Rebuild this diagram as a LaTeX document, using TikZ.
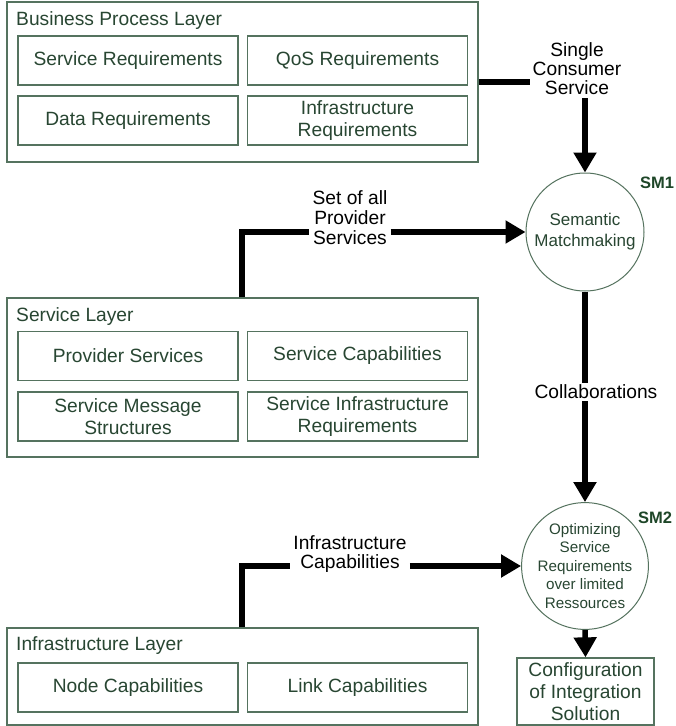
\documentclass[tikz,border=0pt]{standalone}
\usepackage{fontspec}
\setmainfont{Liberation Sans}
\usetikzlibrary{arrows.meta}
\definecolor{boxline}{RGB}{85,115,95}
\definecolor{boxtext}{RGB}{40,70,50}
\definecolor{smgreen}{RGB}{30,70,40}
\begin{document}
\begin{tikzpicture}[x=1pt,y=-1pt,
 layer/.style={draw=boxline,line width=1.3pt,minimum width=471pt,inner sep=0pt},
 item/.style={draw=boxline,line width=1.3pt,minimum width=220pt,minimum height=49pt,text=boxtext,align=center,font=\fontsize{19.2}{21.5}\selectfont,inner sep=0pt},
 ltitle/.style={anchor=west,text=boxtext,font=\fontsize{19.2}{21.5}\selectfont,inner sep=0pt},
 flow/.style={line width=5.5pt},
 flowarrow/.style={line width=5.5pt,-{Triangle[width=22pt,length=20pt]}},
 lbl/.style={align=center,fill=white,inner sep=3pt},
 sm/.style={circle,draw=boxline,line width=1pt,text=boxtext,align=center,inner sep=0pt},
 smlabel/.style={text=smgreen,font=\fontsize{16.5}{16.5}\bfseries\selectfont}
]
\useasboundingbox (0,0) rectangle (676,726);
\fill[white] (0,0) rectangle (676,726);

% Business process layer
\node[layer,minimum height=160pt] (bpl) at (242.5,82) {};
\node[ltitle] (bplt) at (16,21) {Business Process Layer};
\node[item] (sreq) at (128,60.5) {Service Requirements};
\node[item] (qreq) at (357.5,60.5) {QoS Requirements};
\node[item] (dreq) at (128,120.5) {Data Requirements};
\node[item] (ireq) at (357.5,120.5) {Infrastructure\\Requirements};

% Service layer
\node[layer,minimum height=159pt] (sl) at (242.5,377.5) {};
\node[ltitle] (slt) at (16,317) {Service Layer};
\node[item] (psrv) at (128,356) {Provider Services};
\node[item] (scap) at (357.5,356) {Service Capabilities};
\node[item] (smsg) at (128,416.5) {Service Message\\Structures};
\node[item] (sinf) at (357.5,416.5) {Service Infrastructure\\Requirements};

% Infrastructure layer
\node[layer,minimum height=97pt] (il) at (242.5,676.5) {};
\node[ltitle] (ilt) at (16,646) {Infrastructure Layer};
\node[item] (ncap) at (128,687.5) {Node Capabilities};
\node[item] (lcap) at (357.5,687.5) {Link Capabilities};

% Semantic matchmakers
\node[sm,minimum size=118pt,font=\fontsize{17}{21}\selectfont] (sm1) at (585,232) {Semantic\\Matchmaking};
\node[smlabel] (sm1l) at (657,183) {SM1};
\node[sm,minimum size=120pt,font=\fontsize{15.2}{18.5}\selectfont] (sm2) at (585,566) {Optimizing\\Service\\Requirements\\over limited\\Ressources};
\node[smlabel] (sm2l) at (655,518) {SM2};

% Configuration
\node[draw=boxline,line width=1.3pt,minimum width=137pt,minimum height=67pt,inner sep=0pt,text=boxtext,align=center,font=\fontsize{19.2}{22}\selectfont] (cfg) at (585.5,691.5) {Configuration\\of Integration\\Solution};

% Single consumer service
\node[lbl,fill=none,font=\fontsize{19.2}{19}\selectfont] (scs) at (577,69) {Single\\Consumer\\Service};
\draw[flow] (bpl.east) -- (bpl.east -| scs.west);
\draw[flowarrow] (sm1.north |- scs.south) -- (sm1.north);

% Set of all provider services
\node[lbl,fill=none,font=\fontsize{19.2}{20}\selectfont] (sap) at (350,218) {Set of all\\Provider\\Services};
\coordinate (bend1) at (242,232);
\draw[flow] (sl.north -| bend1) -- (bend1) -- (bend1 -| sap.west);
\draw[flowarrow] (sap.east |- sm1.west) -- (sm1.west);

% Infrastructure capabilities
\node[lbl,fill=none,font=\fontsize{19.2}{19}\selectfont] (icap) at (350,554) {Infrastructure\\Capabilities};
\coordinate (bend2) at (242,566);
\draw[flow] (il.north -| bend2) -- (bend2) -- (bend2 -| icap.west);
\draw[flowarrow] (icap.east |- sm2.west) -- (sm2.west);

% Collaborations
\draw[flowarrow] (sm1.south) -- (sm2.north);
\node[lbl,font=\fontsize{19.2}{19}\selectfont,inner ysep=2pt] (coll) at (596,392) {Collaborations};

% To configuration
\draw[flowarrow] (sm2.south) -- (cfg.north);
\end{tikzpicture}
\end{document}
